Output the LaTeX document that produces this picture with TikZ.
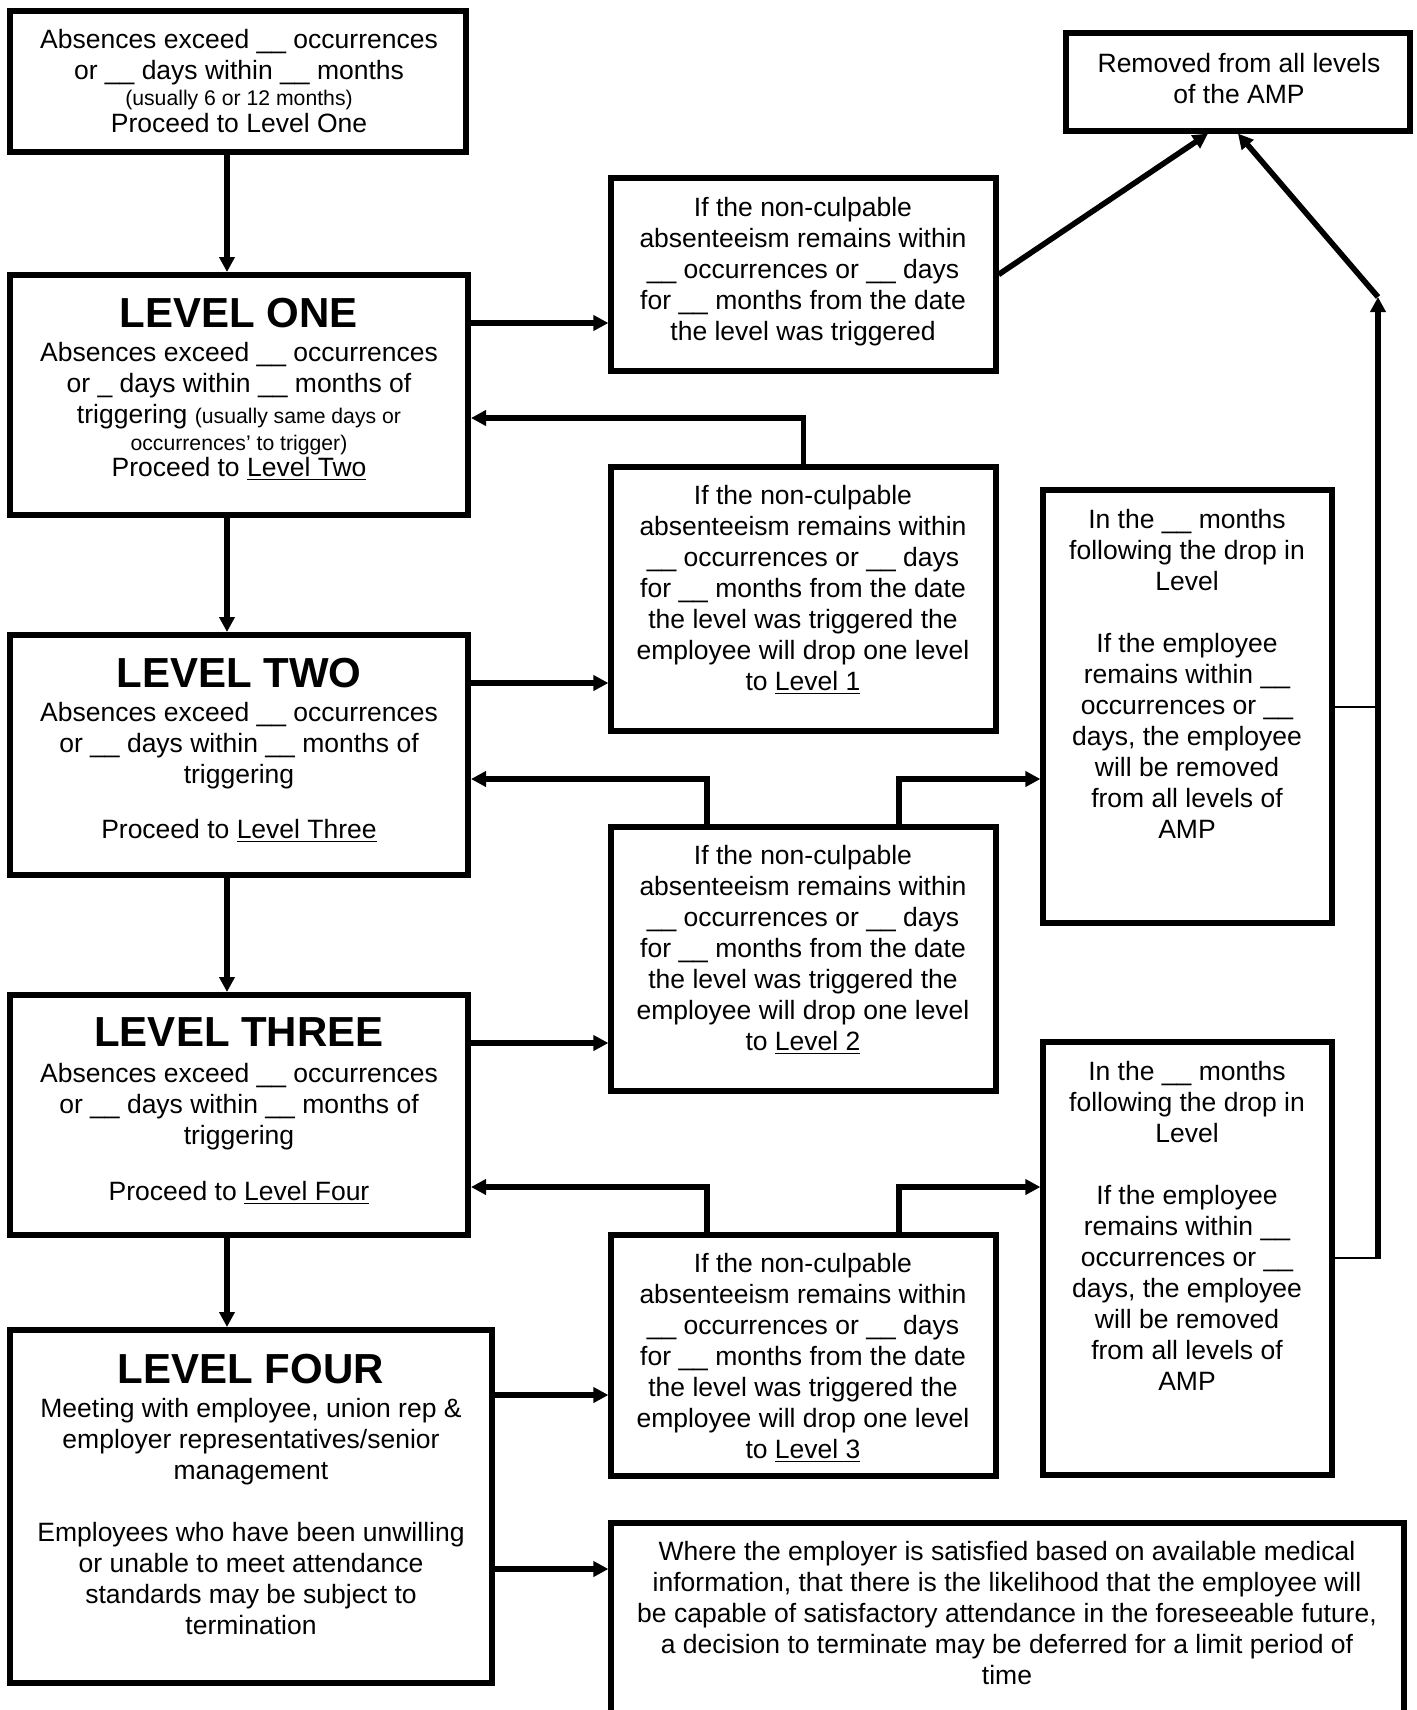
\documentclass[tikz,border=0pt]{standalone}
\usepackage{fontspec}
\setmainfont{Liberation Sans}
\usetikzlibrary{arrows.meta,fit}
\newcommand{\bl}{\_\_}
\newcommand{\sm}[1]{{\fontsize{10.6}{12}\selectfont #1}}
\tikzset{
  lbox/.style={draw, line width=3pt, inner sep=0pt},
  rbox/.style={draw, line width=2.6pt, inner sep=0pt},
  txt/.style={align=center, inner sep=0pt, anchor=north, font=\fontsize{13.25}{15.5}\selectfont},
  head/.style={inner sep=0pt, anchor=north, font=\fontsize{21}{24}\selectfont\bfseries},
  arr/.style={line width=2.8pt, -{Triangle[length=7.5pt,width=7.5pt]}},
  thinln/.style={line width=1.4pt}
}
\begin{document}
\begin{tikzpicture}[x=0.5pt,y=-0.5pt]
\useasboundingbox (0,0) rectangle (1417,1710);
\fill[white] (0,0) rectangle (1417,1710);

% boxes
\node[lbox, fit={(10,11) (466,152)}] (T0) {};
\node[lbox, fit={(10,275) (468,515)}] (L1) {};
\node[lbox, fit={(10,635) (468,875)}] (L2) {};
\node[lbox, fit={(10,995) (468,1235)}] (L3) {};
\node[lbox, fit={(10,1330) (492,1683)}] (L4) {};
\node[rbox, fit={(1066,33) (1410,131)}] (Rem) {};
\node[rbox, fit={(611,178) (996,371)}] (R1) {};
\node[rbox, fit={(611,467) (996,731)}] (R2) {};
\node[rbox, fit={(611,827) (996,1091)}] (R3) {};
\node[rbox, fit={(611,1235) (996,1476)}] (R4) {};
\node[rbox, fit={(1043,490) (1332,923)}] (A) {};
\node[rbox, fit={(1043,1042) (1332,1475)}] (B) {};
\node[rbox, fit={(611,1523) (1404,1730)}] (Bot) {};

% texts
\node[txt] (t0) at (239,29) {Absences exceed \bl{} occurrences\\ or \bl{} days within \bl{} months\\[-2.5pt] \sm{(usually 6 or 12 months)}\\[-2pt] Proceed to Level One};
\node[head] (h1) at (239,298) {LEVEL ONE};
\node[txt] (t1) at (239,342) {Absences exceed \bl{} occurrences\\ or \_ days within \bl{} months of\\ triggering \sm{(usually same days or}\\[-2pt] \sm{occurrences’ to trigger)}\\[-2.5pt] Proceed to \underline{Level Two}};
\node[head] (h2) at (239,658) {LEVEL TWO};
\node[txt] (t2) at (239,702) {Absences exceed \bl{} occurrences\\ or \bl{} days within \bl{} months of\\ triggering\\[12pt] Proceed to \underline{Level Three}};
\node[head] (h3) at (239,1017) {LEVEL THREE};
\node[txt] (t3) at (239,1063) {Absences exceed \bl{} occurrences\\ or \bl{} days within \bl{} months of\\ triggering\\[12.5pt] Proceed to \underline{Level Four}};
\node[head] (h4) at (251,1354) {LEVEL FOUR};
\node[txt] (t4) at (251,1398) {Meeting with employee, union rep \&\\ employer representatives/senior\\ management\\[15.5pt] Employees who have been unwilling\\ or unable to meet attendance\\ standards may be subject to\\ termination};
\node[txt] (trem) at (1239,53) {Removed from all levels\\ of the AMP};
\node[txt] (tr1) at (803,197) {If the non-culpable\\ absenteeism remains within\\ \bl{} occurrences or \bl{} days\\ for \bl{} months from the date\\ the level was triggered};
\node[txt] (tr2) at (803,485) {If the non-culpable\\ absenteeism remains within\\ \bl{} occurrences or \bl{} days\\ for \bl{} months from the date\\ the level was triggered the\\ employee will drop one level\\ to \underline{Level 1}};
\node[txt] (tr3) at (803,845) {If the non-culpable\\ absenteeism remains within\\ \bl{} occurrences or \bl{} days\\ for \bl{} months from the date\\ the level was triggered the\\ employee will drop one level\\ to \underline{Level 2}};
\node[txt] (tr4) at (803,1253) {If the non-culpable\\ absenteeism remains within\\ \bl{} occurrences or \bl{} days\\ for \bl{} months from the date\\ the level was triggered the\\ employee will drop one level\\ to \underline{Level 3}};
\node[txt] (ta) at (1187,509) {In the \bl{} months\\ following the drop in\\ Level\\[15.5pt] If the employee\\ remains within \bl\\ occurrences or \bl\\ days, the employee\\ will be removed\\ from all levels of\\ AMP};
\node[txt] (tb) at (1187,1061) {In the \bl{} months\\ following the drop in\\ Level\\[15.5pt] If the employee\\ remains within \bl\\ occurrences or \bl\\ days, the employee\\ will be removed\\ from all levels of\\ AMP};
\node[txt] (tbot) at (1007,1541) {Where the employer is satisfied based on available medical\\ information, that there is the likelihood that the employee will\\ be capable of satisfactory attendance in the foreseeable future,\\ a decision to terminate may be deferred for a limit period of\\ time};

% helper coordinates
\coordinate (cx) at (227,0);
\coordinate (lx) at (707,0);
\coordinate (rx) at (899,0);
\coordinate (vx) at (1378,0);
\coordinate (vtop) at (1378,297);

% vertical chain
\draw[arr] (T0.south -| cx) -- (L1.north -| cx);
\draw[arr] (L1.south -| cx) -- (L2.north -| cx);
\draw[arr] (L2.south -| cx) -- (L3.north -| cx);
\draw[arr] (L3.south -| cx) -- (L4.north -| cx);

% level to right boxes
\draw[arr] (L1.east |- 0,323) -- (R1.west |- 0,323);
\draw[arr] (L2.east |- 0,683) -- (R2.west |- 0,683);
\draw[arr] (L3.east |- 0,1043) -- (R3.west |- 0,1043);
\draw[arr] (L4.east |- 0,1395) -- (R4.west |- 0,1395);
\draw[arr] (L4.east |- 0,1569) -- (Bot.west |- 0,1569);

% drop-back connectors
\draw[arr] (R2.north) |- (L1.east |- 0,418);
\draw[arr] (R3.north -| lx) |- (L2.east |- 0,779);
\draw[arr] (R3.north -| rx) |- (A.west |- 0,779);
\draw[arr] (R4.north -| lx) |- (L3.east |- 0,1187);
\draw[arr] (R4.north -| rx) |- (B.west |- 0,1187);

% right side to removal
\draw[thinln] (A.east |- 0,707) -- (vx |- 0,707);
\draw[thinln] (B.east |- 0,1258) -- (vx |- 0,1258);
\draw[arr] (vx |- 0,1259) -- (vtop);
\draw[arr] (vtop) -- (Rem.south -| 1238,0);
\draw[arr] (R1.east) -- (Rem.south -| 1208,0);
\end{tikzpicture}
\end{document}
